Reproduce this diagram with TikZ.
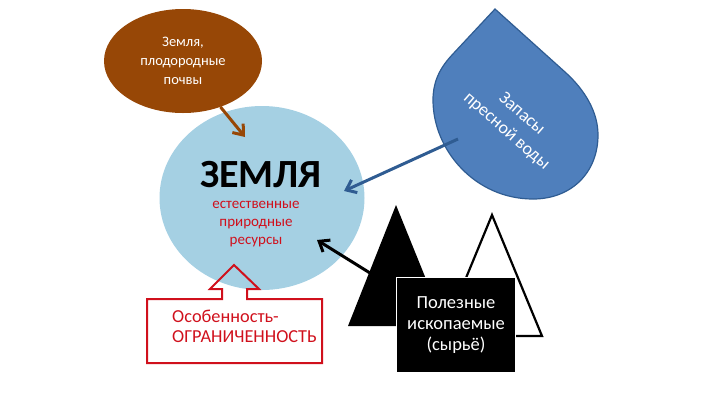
\documentclass[tikz,border=0pt]{standalone}
\usepackage{fontspec}
\setmainfont{Carlito}
\usetikzlibrary{arrows.meta}
\usetikzlibrary{shapes.geometric}
\definecolor{soilbrown}{HTML}{974706}
\definecolor{earthblue}{HTML}{A5D0E3}
\definecolor{waterblue}{HTML}{4F7FBC}
\definecolor{waterline}{HTML}{2F5C92}
\definecolor{limitred}{HTML}{D0101C}
\tikzset{
  arrowline/.style={line width=3pt,-{Straight Barb[length=9pt,width=14pt,line width=3pt]}},
  redtext/.style={text=limitred,align=center,font=\fontsize{15}{18}\selectfont},
  rotlabel/.style={text=white,align=center,rotate=-41,font=\fontsize{18}{23}\selectfont},
}
\begin{document}
\begin{tikzpicture}[x=1pt,y=-1pt]
        \useasboundingbox (0,0) rectangle (720,405);
        %
        \node[ellipse,fill=earthblue,minimum width=205pt,minimum height=184pt,inner sep=0pt] (earth) at (262,198) {};
        \node[ellipse,fill=soilbrown,minimum width=158pt,minimum height=104pt,inner sep=0pt,align=center,text=white,font=\fontsize{14.5}{19}\selectfont] (soil) at (183,61) {Земля,\\плодородные\\почвы};
        \node[font=\fontsize{40}{40}\selectfont\bfseries] (earthtitle) at (261,175) {ЗЕМЛЯ};
        \node[redtext] (earthtext) at (256,224) {естественные\\природные\\ресурсы};
        %
        \draw[color=waterline,fill=waterblue,line width=1.2pt] (495,9) -- (452,55)
          .. controls (438,70) and (433,84) .. (433,100)
          .. controls (433,150) and (475,199) .. (533,199)
          .. controls (572,199) and (598,172) .. (598,135)
          .. controls (598,112) and (585,90) .. (565,72) -- cycle;
        \node[rotlabel] (watertext) at (514,123) {Запасы\\пресной воды};
        %
        \fill[color=black] (396,205) -- (348,326) -- (445,326) -- cycle;
        \draw[color=black,fill=white,line width=2.2pt,line join=miter] (492,215) -- (442,336) -- (542,336) -- cycle;
        \node[fill=black,draw=white,line width=1.2pt,minimum width=119pt,minimum height=95pt,inner sep=0pt,align=center,text=white,font=\fontsize{18.5}{21}\selectfont] (minerals) at (456,325) {Полезные\\ископаемые\\(сырьё)};
        %
        \draw[color=limitred,line width=2pt,line join=miter] (147,299) -- (222,299) -- (222,289) -- (210,289) -- (234,265) -- (259,289) -- (247,289) -- (247,299) -- (322,299) -- (322,363) -- (147,363) -- cycle;
        \node[text=limitred,align=left,anchor=west,inner sep=0pt,font=\fontsize{18.3}{20}\selectfont] (limittext) at (172,326) {Особенность-\\ОГРАНИЧЕННОСТЬ};
        %
        \coordinate (soilhead) at (245,137);
        \coordinate (waterstart) at (458,139);
        \coordinate (waterhead) at (344,191);
        \coordinate (minestart) at (370,273);
        \coordinate (minehead) at (317,240);
        \draw[arrowline,color=soilbrown] (soil) to (soilhead);
        \draw[arrowline,color=waterline] (waterstart) to (waterhead);
        \draw[arrowline,color=black] (minestart) to (minehead);
        %
\end{tikzpicture}
\end{document}
